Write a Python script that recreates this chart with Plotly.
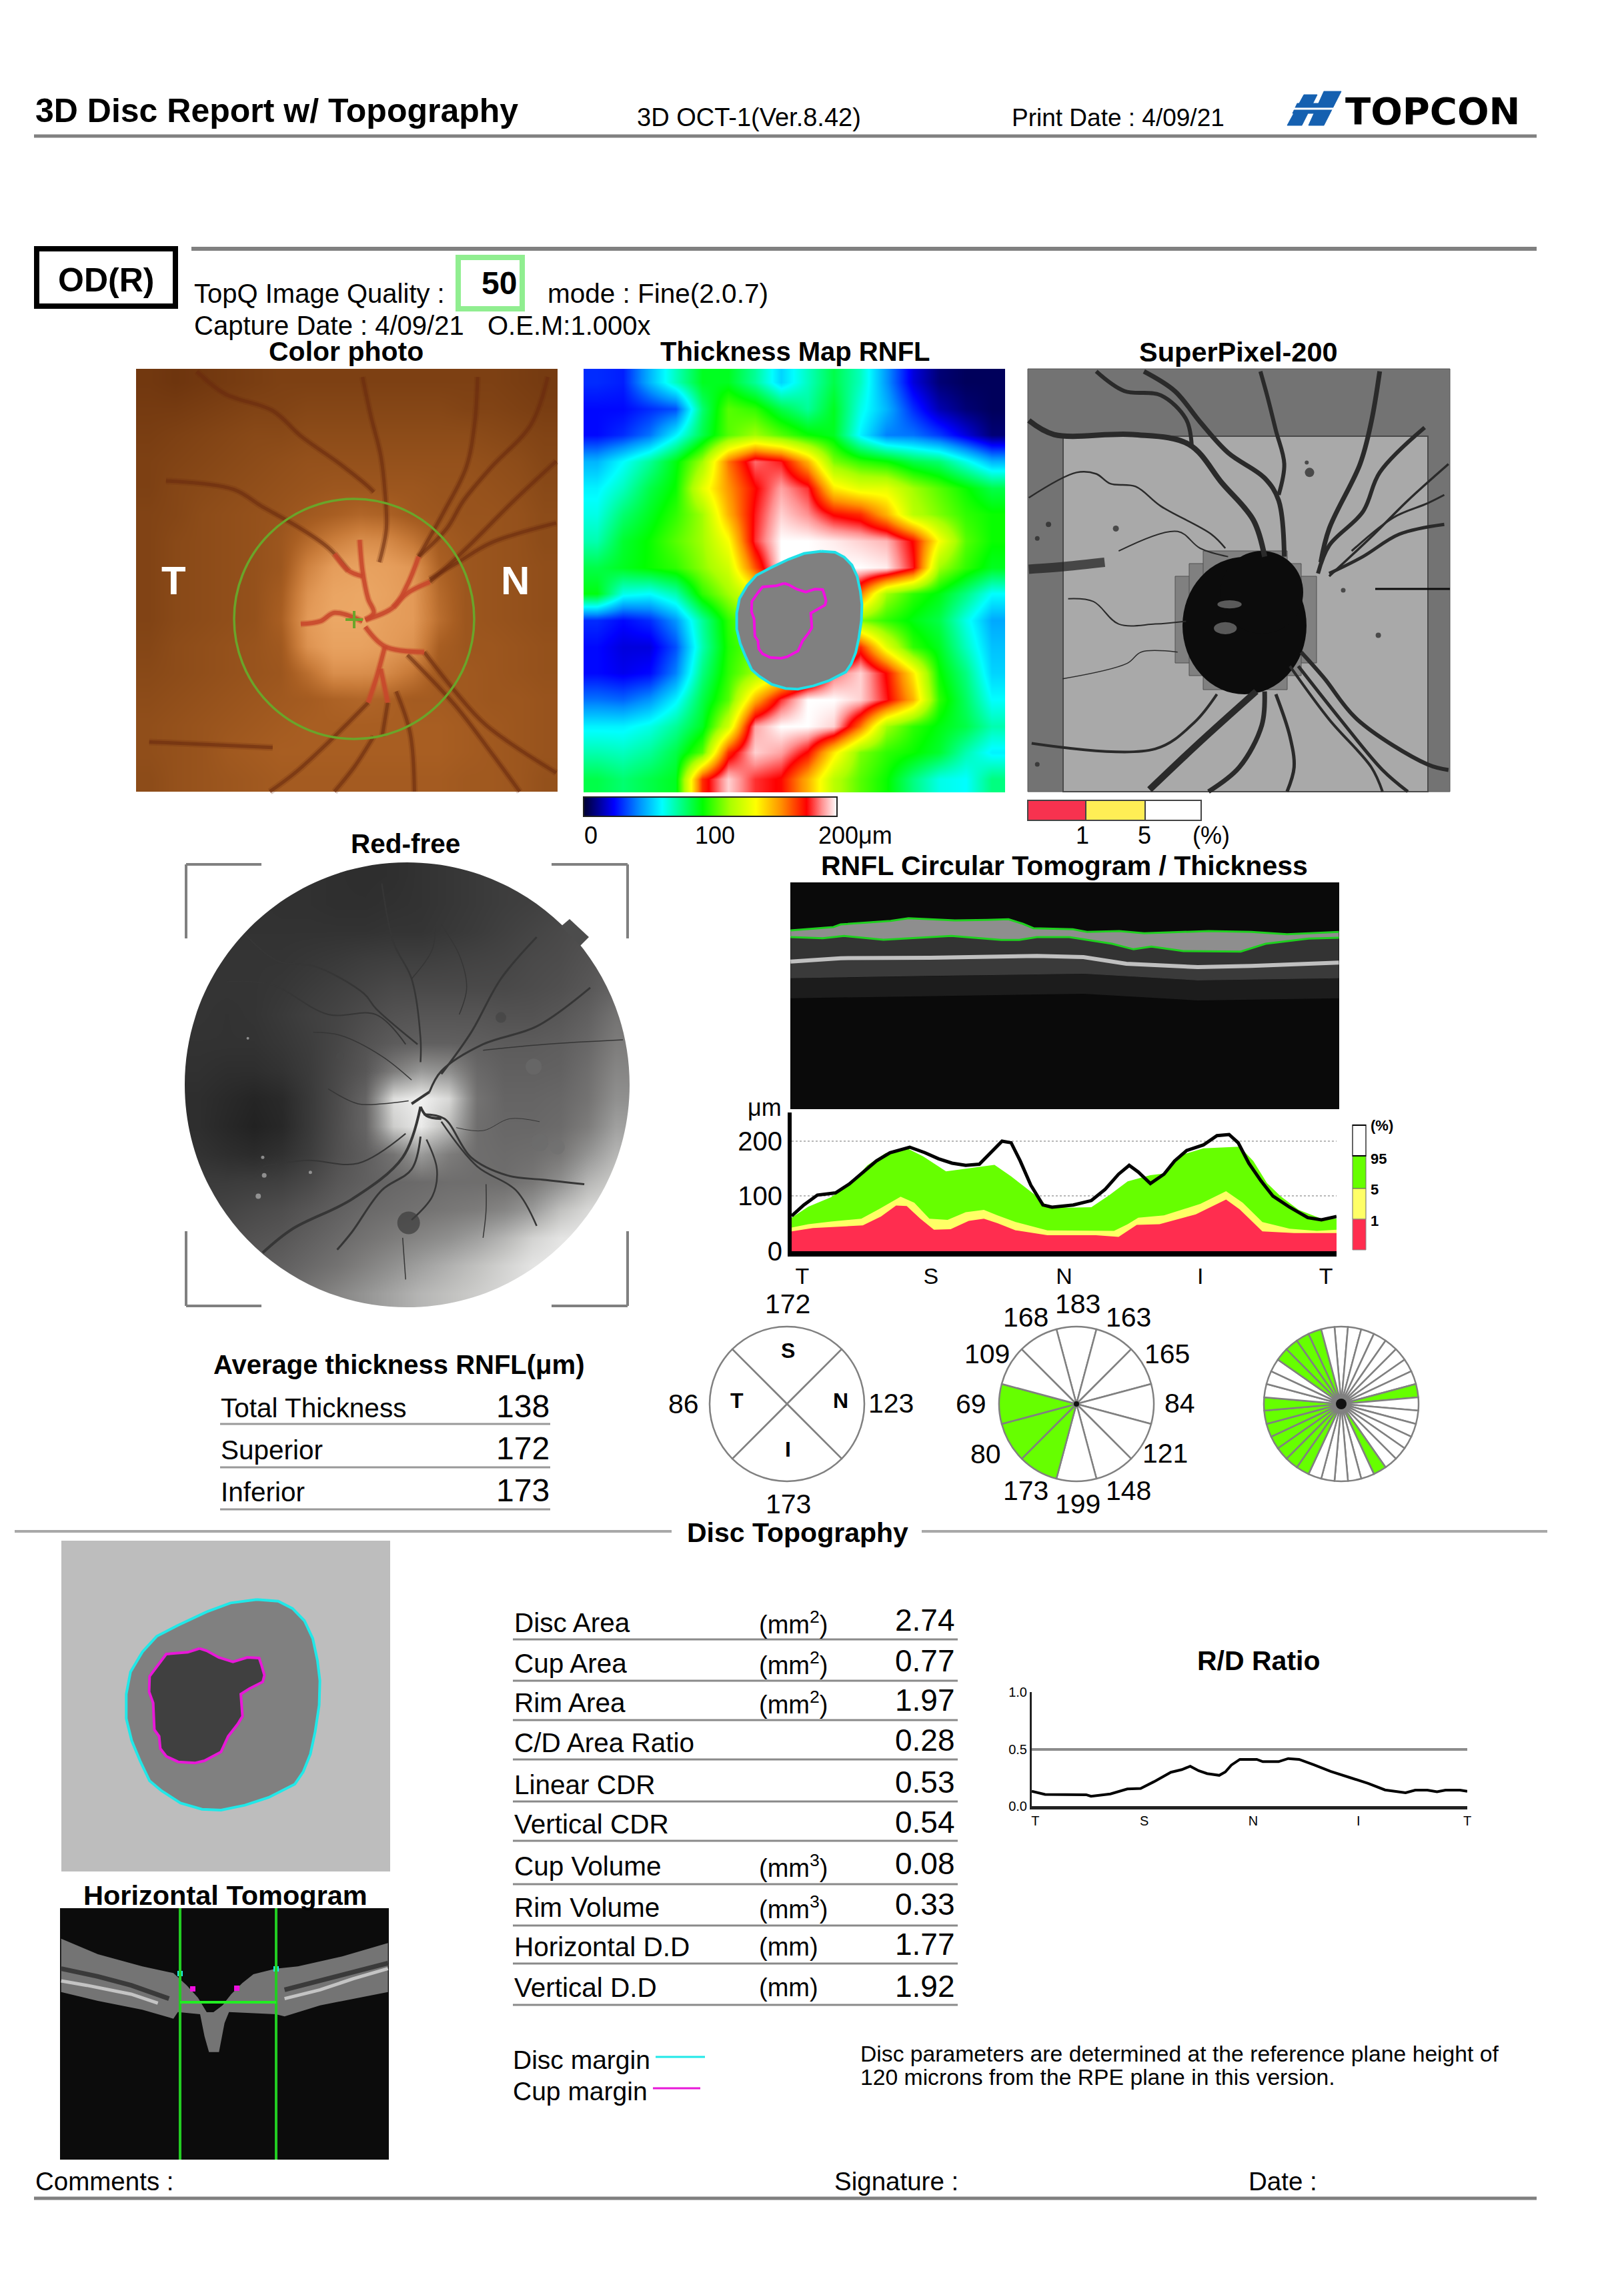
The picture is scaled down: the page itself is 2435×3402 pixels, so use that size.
import plotly.graph_objects as go

W, H = 2435, 3402
FONT = "Liberation Sans"

# ---------- RNFL thickness profile (degrees around the circle, microns) ----------
rnfl_deg = [0,8,17,29,38,47,56,65,78,88,97,106,115,124,131,139,145,151,158,166,172,186,198,207,216,223,229,237,246,253,261,272,281,289,295,302,310,318,329,341,350,360]
rnfl_um = [64,84,102,106,122,144,164,179,189,179,168,160,156,158,177,200,197,164,120,84,80,84,92,112,140,156,144,123,140,164,183,193,210,212,197,160,128,100,80,61,57,63]
p95_deg = [0,11,26,38,50,62,77,87,102,115,134,145,160,169,183,198,210,222,237,246,258,272,296,305,314,323,335,350,360]
p95_um = [61,81,98,120,156,178,186,172,145,150,157,136,104,82,79,80,102,127,138,141,175,187,190,164,124,100,75,59,59]
p5_deg = [0,11,26,46,58,72,81,91,103,115,127,136,148,169,213,222,229,246,270,287,298,311,329,347,360]
p5_um = [43,49,54,59,77,99,88,59,57,71,75,65,53,38,37,49,61,65,86,109,88,53,41,37,39]
p1_deg = [0,14,47,59,69,76,85,94,105,117,127,136,148,169,201,216,228,243,267,287,296,311,332,360]
p1_um = [36,42,47,63,83,82,59,39,40,55,59,51,38,29,29,26,48,49,67,94,76,36,33,33]
rnfl_ticks = [7,92,180,270,353]
quadrant_ticks = ["T","S","N","I","T"]

# ---------- R/D ratio ----------
rd_deg = [0,11,45,49,65,79,90,101,115,124,131,138,145,155,160,165,172,186,191,204,212,221,233,247,264,278,292,309,317,327,335,342,354,360]
rd_val = [.13,.103,.10,.087,.107,.15,.155,.214,.297,.32,.35,.31,.285,.27,.30,.36,.41,.41,.39,.39,.417,.41,.363,.305,.247,.20,.142,.117,.14,.14,.126,.14,.14,.13]

# ---------- Sector charts ----------
quad_names = ["S","N","I","T"]
quad_values = ["172","123","173","86"]
clock_values = ["183","163","165","84","121","148","199","173","80","69","109","168"]
clock_flag = [0,0,0,0,0,0,0,1,1,1,0,0]
sector36_green = [8,15,21,22,23,24,25,26,27,31,32,33,34]

# ---------- Tables ----------
avg_names = ["Total Thickness","Superior","Inferior"]
avg_values = ["138","172","173"]
disc_names = ["Disc Area","Cup Area","Rim Area","C/D Area Ratio","Linear CDR","Vertical CDR","Cup Volume","Rim Volume","Horizontal D.D","Vertical D.D"]
disc_units = ["(mm<sup>2</sup>)","(mm<sup>2</sup>)","(mm<sup>2</sup>)","","","","(mm<sup>3</sup>)","(mm<sup>3</sup>)","(mm)","(mm)"]
disc_values = ["2.74","0.77","1.97","0.28","0.53","0.54","0.08","0.33","1.77","1.92"]

# ---------- Estimated image grids ----------
thick_grid = [
 [30,28,50,70,90,90,75,55,70,85,70,45,20,8,5,5],
 [25,25,30,35,80,105,100,85,75,90,65,50,30,15,8,5],
 [25,30,40,60,85,105,115,105,95,90,60,42,40,32,20,8],
 [50,62,75,92,115,160,185,178,150,110,100,95,85,80,65,50],
 [60,70,85,95,130,155,175,190,180,140,130,130,115,105,95,85],
 [65,80,90,100,115,150,178,195,188,175,170,150,120,110,100,95],
 [72,88,95,105,115,135,180,200,200,198,195,192,175,135,105,95],
 [85,90,95,100,112,125,165,200,200,200,200,198,178,115,100,90],
 [92,65,62,72,100,115,130,150,170,170,160,115,100,92,78,62],
 [30,25,30,45,75,100,115,120,125,125,110,100,92,85,65,48],
 [25,20,20,35,72,98,108,115,120,130,170,130,100,90,70,52],
 [25,22,25,42,78,100,115,130,150,185,195,175,140,95,78,55],
 [40,38,45,60,85,105,150,180,200,200,195,178,150,100,82,62],
 [60,60,65,75,90,125,190,200,200,195,160,115,100,92,85,72],
 [72,70,75,85,105,170,195,190,175,140,110,100,95,88,72,60],
 [85,80,85,90,170,195,180,175,150,120,105,95,78,65,62,78]]
thick_scale = [[0,"#000030"],[.12,"#0000ff"],[.22,"#0090ff"],[.31,"#00ffff"],[.47,"#00ff00"],[.58,"#aaff00"],[.68,"#ffff00"],[.78,"#ff9000"],[.88,"#ff0000"],[.94,"#ff9090"],[1,"#ffffff"]]

photo_grid = [
 [32,30,32,34,36,38,38,38,38,38,38,38,38,38,36,34],
 [34,34,36,38,40,40,42,42,42,42,42,42,40,40,38,36],
 [36,38,40,42,44,44,46,46,46,46,46,46,46,44,42,40],
 [38,40,42,44,46,48,50,50,50,50,50,50,50,48,46,42],
 [38,42,44,46,48,50,52,54,54,54,54,52,52,50,48,44],
 [40,42,46,48,50,52,56,60,64,62,56,54,52,52,50,46],
 [40,44,46,48,50,54,66,76,84,82,72,58,54,52,50,46],
 [40,44,46,48,50,54,78,92,96,94,88,62,54,52,50,48],
 [40,44,46,48,50,58,86,98,100,96,90,66,54,52,50,48],
 [40,44,46,48,50,60,90,100,100,94,90,68,54,52,50,48],
 [42,46,48,50,52,56,86,96,96,92,86,60,54,54,52,50],
 [44,46,48,50,52,54,68,84,84,82,72,56,56,54,52,50],
 [46,48,50,52,54,56,58,62,64,62,58,58,56,54,54,52],
 [48,50,52,54,56,58,60,60,60,60,60,60,58,56,54,52],
 [48,50,52,56,58,60,60,60,60,60,60,60,58,56,54,52],
 [46,50,52,54,56,58,58,58,58,58,58,58,56,56,54,50]]
photo_scale = [[0,"#6e350e"],[.21,"#8a4a18"],[.43,"#a85e22"],[.64,"#c97c3a"],[.86,"#e39a58"],[1,"#eba765"]]

redfree_grid = [
 [60,60,60,60,58,56,55,56,60,64,68,72,72,75,80,85],
 [60,60,60,58,58,56,56,58,60,64,68,72,75,80,85,90],
 [60,60,60,60,60,60,60,62,62,66,70,75,80,85,90,95],
 [62,62,62,62,65,68,72,74,74,76,78,80,85,88,95,105],
 [62,62,62,65,70,75,80,85,85,85,85,85,88,92,100,115],
 [62,60,62,68,75,80,88,95,98,98,98,95,95,100,110,130],
 [60,60,60,65,72,82,95,105,110,110,108,105,105,108,118,140],
 [58,55,55,60,70,85,100,140,170,160,120,110,110,112,125,150],
 [55,50,45,50,68,88,115,230,245,225,130,115,115,118,130,160],
 [55,48,42,48,68,90,115,215,240,200,125,118,118,122,140,175],
 [60,55,52,58,72,92,108,130,170,140,125,122,125,135,165,195],
 [70,70,72,75,85,100,110,118,122,125,125,125,135,160,195,215],
 [75,80,85,90,100,110,120,125,130,135,140,150,170,205,225,235],
 [85,90,95,100,110,120,130,140,150,160,175,195,220,235,240,240],
 [95,100,105,110,120,130,145,160,175,190,205,220,235,240,240,240],
 [100,105,110,120,135,150,165,180,195,205,215,225,235,240,240,240]]

# ---------- Outlines (zoomed-crop coordinates) ----------
disc_outline = [(910,355),(1000,362),(1060,395),(1110,450),(1145,530),(1165,630),(1175,720),(1172,830),(1155,950),(1135,1050),(1105,1130),(1070,1185),(960,1245),(860,1280),(760,1302),(680,1298),(590,1270),(510,1215),(460,1170),(420,1080),(385,990),(362,890),(362,780),(380,680),(430,590),(490,520),(580,470),(700,410),(800,370),(910,355)]
cup_outline = [(670,575),(700,585),(750,615),(810,635),(870,615),(920,618),(930,650),(942,695),(935,725),(880,755),(843,780),(850,880),(830,915),(790,970),(760,1040),(690,1080),(650,1090),(580,1085),(530,1060),(505,1025),(500,970),(480,940),(475,820),(458,770),(460,700),(500,640),(530,600),(620,592),(670,575)]

photo_dark_vessels = [
 [(840,60),(870,200),(905,340),(920,470),(925,600),(900,720)],
 [(250,40),(350,120),(520,180),(620,270),(760,370),(860,450),(880,470)],
 [(1250,60),(1240,220),(1210,380),(1130,540),(1040,700)],
 [(1500,60),(1440,230),(1300,380),(1200,500),(1140,600),(1040,700)],
 [(1530,360),(1380,500),(1200,680),(1080,790)],
 [(1530,580),(1300,650),(1180,720),(1080,780)],
 [(1060,1040),(1170,1180),(1280,1300),(1530,1470)],
 [(1000,1050),(1170,1230),(1300,1400),(1400,1537)],
 [(860,1220),(720,1360),(600,1470),(510,1537)],
 [(930,1220),(910,1340)],
 [(960,1180),(1010,1330),(1025,1537)],
 [(880,1340),(810,1450),(740,1537)],
 [(140,430),(380,460),(480,520),(620,600),(720,670),(790,750)],
 [(80,1360),(300,1370),(520,1380)]]
photo_red_vessels = [
 [(830,640),(840,750),(860,850),(880,900),(850,925)],
 [(1040,700),(1000,800),(950,880),(850,925)],
 [(850,950),(920,1020),(1060,1040)],
 [(920,1020),(890,1130),(860,1220)],
 [(905,1100),(930,1220)],
 [(840,930),(740,900),(690,930),(620,940)],
 [(740,690),(790,750),(840,770)],
 [(1080,790),(1000,830),(950,880)]]

sp_vessels = [
 ([(30,215),(120,265),(400,265),(600,300),(720,440),(830,570),(870,700)],8),
 ([(270,40),(370,110),(500,125),(590,210),(610,300)],6),
 ([(440,40),(550,110),(640,220),(740,330),(870,420),(920,500),(940,700)],7),
 ([(855,40),(880,130),(910,250),(940,370),(920,480)],6),
 ([(1280,40),(1250,220),(1210,370),(1100,600),(1070,720)],7),
 ([(1440,240),(1280,400),(1220,540),(1100,660),(1060,760)],6),
 ([(1525,370),(1380,500),(1260,620),(1100,770)],3.5),
 ([(1510,480),(1450,510),(1330,560),(1180,680)],3),
 ([(1510,585),(1350,620),(1220,700),(1100,760)],5),
 ([(1000,1040),(1080,1130),(1200,1280),(1450,1440),(1525,1460)],6),
 ([(990,1090),(1140,1280),(1290,1460),(1380,1537)],5),
 ([(960,1090),(1100,1280),(1250,1450),(1290,1537)],4),
 ([(840,1180),(640,1360),(460,1530)],10),
 ([(870,1180),(860,1300),(780,1450),(670,1537)],7),
 ([(910,1190),(960,1340),(975,1450),(950,1537)],5),
 ([(700,1190),(620,1290),(480,1385),(40,1365)],4),
 ([(30,490),(200,400),(270,405),(320,440),(410,450),(500,520),(680,620),(730,670)],2.5),
 ([(350,680),(560,610),(640,670),(740,700)],2),
 ([(170,850),(260,860),(350,940),(480,940),(590,930)],2),
 ([(150,1135),(380,1080),(430,1040),(560,1040)],1.5)]
sp_smear = [(30,745),(160,735),(300,720)]
sp_spots = [(1030,400,14),(340,600,9),(1275,980,8),(1150,820,7),(100,585,8),(60,635,7),(60,1440,7),(1020,365,6)]
sp_patches = [(745,870,36,12),(730,955,34,18)]

rf_vessels = [
 ([(830,850),(770,1020),(600,1160),(400,1260),(300,1340)],4),
 ([(830,950),(800,1060),(700,1130),(600,1270),(550,1330)],3),
 ([(850,960),(885,1060),(870,1150),(800,1230)],2.5),
 ([(840,875),(910,890),(1000,1020),(1120,1080),(1240,1095),(1380,1110)],3),
 ([(900,900),(1020,1050),(1150,1130),(1220,1250)],2.5),
 ([(1050,1110),(1050,1200),(1040,1290)],1.5),
 ([(860,800),(900,730),(1040,640),(1220,580),(1400,450)],3),
 ([(900,740),(1000,600),(1100,420),(1220,280)],3),
 ([(1040,660),(1250,640),(1510,625)],1.5),
 ([(830,700),(830,620),(800,420),(740,300),(700,100)],2.5),
 ([(820,640),(680,520),(640,470),(480,380),(350,360),(240,270)],2.5),
 ([(780,640),(680,540),(520,540),(330,440),(180,430)],2),
 ([(960,540),(985,450),(960,340),(900,240)],1.5),
 ([(800,420),(870,320),(880,200)],1.5),
 ([(800,760),(700,680),(560,610),(470,600)],1.5),
 ([(790,830),(700,840),(620,840),(520,790)],1.5),
 ([(780,940),(620,1040),(450,1030),(300,1050)],2),
 ([(950,920),(1040,930),(1130,890),(1230,900)],1),
 ([(770,1290),(780,1430)],1.5),
 ([(800,840),(860,800)],4),
 ([(830,850),(850,880),(900,890)],4)]
rf_spots = [(790,1240,34,"#3c3c3c"),(1230,970,26,"#6c6c6c"),(1290,985,22,"#707070"),(1210,715,24,"#6a6a6a"),(1100,550,16,"#444444"),(560,680,12,"#4a4a4a"),
            (300,1020,5,"#b4b4b4"),(305,1080,7,"#b4b4b4"),(285,1150,8,"#b4b4b4"),(250,620,4,"#b4b4b4"),(460,1070,5,"#b4b4b4")]

tomo_top = [(10,255),(130,240),(150,228),(290,212),(340,200),(470,210),(560,208),(620,205),(660,225),(690,245),(800,250),(840,262),(930,258),(1000,268),(1180,258),(1300,262),(1400,272),(1545,262)]
tomo_low = [(10,285),(100,290),(160,280),(270,297),(460,280),(600,298),(650,298),(700,285),(790,285),(910,315),(970,340),(1020,328),(1110,348),(1270,350),(1340,315),(1460,292),(1545,288)]
tomo_rpe = [(10,395),(150,380),(400,378),(700,370),(830,375),(950,405),(1150,420),(1300,415),(1545,400)]
tomo_deep = [(10,470),(400,460),(830,450),(1150,480),(1545,470)]
tomo_deeper = [(10,560),(400,550),(830,540),(1150,570),(1545,560)]

ht_retina = [(35,260),(200,330),(400,385),(540,415),(600,470),(650,525),(690,590),(720,590),(760,560),(800,510),(850,460),(900,420),(1000,395),(1100,385),(1300,340),(1505,280),(1505,500),(1200,560),(1040,610),(1000,600),(790,590),(770,640),(745,770),(700,770),(680,700),(660,600),(560,590),(540,620),(400,580),(200,540),(35,500)]
ht_rpe_left = [(35,450),(150,470),(350,510),(470,550)]
ht_rpe_right = [(1040,530),(1200,490),(1350,440),(1505,395)]
ht_dark_left = [(35,395),(200,430),(350,470),(520,530)]
ht_dark_right = [(1040,490),(1200,450),(1350,410),(1505,370)]
ht_cavity = [(660,540),(780,540),(760,560),(720,590),(690,590)]

logo_left = [(1930,188),(1955,142),(1975,142),(1952,188)]
logo_right = [(1962,188),(1985,137),(2011,137),(1985,188)]
logo_bar = [(1945,155),(2000,155),(1992,170),(1938,170)]

fig = go.Figure()
shapes, notes = [], []


def txt(x, y, s, size=38, bold=False, anchor="left", color="#000000", font=FONT):
    notes.append(dict(x=x, y=y, xref="x", yref="y", text=f"<b>{s}</b>" if bold else s, showarrow=False,
                      xanchor=anchor, yanchor="middle", borderpad=0,
                      font=dict(family=font, size=size, color=color)))


def hline(x0, x1, y, color="#808080", w=4):
    shapes.append(dict(type="line", xref="x", yref="y", x0=x0, x1=x1, y0=y, y1=y, line=dict(color=color, width=w)))


def vline(x, y0, y1, color="#808080", w=4):
    shapes.append(dict(type="line", xref="x", yref="y", x0=x, x1=x, y0=y0, y1=y1, line=dict(color=color, width=w)))


def rect(x0, y0, x1, y1, fill="rgba(0,0,0,0)", line="rgba(0,0,0,0)", w=0, layer="above"):
    shapes.append(dict(type="rect", xref="x", yref="y", x0=x0, x1=x1, y0=y0, y1=y1, fillcolor=fill,
                       line=dict(color=line, width=w), layer=layer))


def disk(cx, cy, rx, ry, fill, layer="above"):
    shapes.append(dict(type="circle", xref="x", yref="y", x0=cx - rx, x1=cx + rx, y0=cy - ry, y1=cy + ry,
                       fillcolor=fill, line=dict(width=0), layer=layer))


def conv(pts, x0, fx, y0, fy):
    return [x0 + p[0] / fx for p in pts], [y0 + p[1] / fy for p in pts]


def path(xs, ys, color, w, fill=None, smooth=False):
    fig.add_trace(go.Scatter(x=xs, y=ys, mode="lines",
                             line=dict(color=color, width=w, shape="spline" if smooth else "linear"),
                             fill="toself" if fill else None, fillcolor=fill, hoverinfo="skip", showlegend=False))


def grid_heat(z, x0, y0, x1, y1, scale, zmin, zmax, **kw):
    n, m = len(z), len(z[0])
    xs = [x0 + (j + .5) * (x1 - x0) / m for j in range(m)]
    ys = [y0 + (i + .5) * (y1 - y0) / n for i in range(n)]
    fig.add_trace(go.Heatmap(z=z, x=xs, y=ys, colorscale=scale, zmin=zmin, zmax=zmax, zsmooth="best",
                             hoverinfo="skip", **kw))


# ---------- Header ----------
txt(52, 166, "3D Disc Report w/ Topography", 50, True)
txt(954, 176, "3D OCT-1(Ver.8.42)", 38)
txt(1516, 176, "Print Date : 4/09/21", 37)
hline(51, 2304, 204, "#808080", 5)
hline(287, 2304, 373, "#808080", 6)
rect(55, 373, 263, 459, "rgba(0,0,0,0)", "#000000", 8)
txt(159, 420, "OD(R)", 50, True, "center")
rect(687, 386, 783, 463, "rgba(0,0,0,0)", "#90ee90", 8)
txt(748, 424, "50", 48, True, "center")
txt(290, 440, "TopQ Image Quality :", 40)
txt(820, 440, "mode : Fine(2.0.7)", 40.5)
txt(290, 488, "Capture Date : 4/09/21", 40)
txt(730, 488, "O.E.M:1.000x", 40)
txt(519, 527, "Color photo", 41, True, "center")
txt(1192, 527, "Thickness Map RNFL", 40, True, "center")
txt(1857, 527, "SuperPixel-200", 41.5, True, "center")
for poly in (logo_left, logo_right, logo_bar):
    path([p[0] for p in poly] + [poly[0][0]], [p[1] for p in poly] + [poly[0][1]], "#1560b0", 1, "#1560b0")
hline(1935, 2010, 163, "#ffffff", 3)
txt(2016, 166, "TOPCON", 56, True, font="DejaVu Sans")

# ---------- Color photo ----------
grid_heat(photo_grid, 204, 553, 836, 1187, photo_scale, 30, 100, showscale=False)
for v in photo_dark_vessels:
    x, y = conv(v, 190, 2.376, 540, 2.376)
    path(x, y, "rgba(105,42,14,0.22)", 10, smooth=True)
    path(x, y, "rgba(105,42,14,0.55)", 5, smooth=True)
for v in photo_red_vessels:
    x, y = conv(v, 190, 2.376, 540, 2.376)
    path(x, y, "rgba(200,71,44,0.35)", 10, smooth=True)
    path(x, y, "rgba(200,71,44,0.85)", 6, smooth=True)
shapes.append(dict(type="circle", xref="x", yref="y", x0=351, x1=711, y0=748, y1=1108, line=dict(color="#6aa52a", width=3.5)))
hline(518, 544, 929, "#6aa52a", 4)
vline(531, 916, 942, "#6aa52a", 4)
txt(260, 870, "T", 60, True, "center", "#ffffff")
txt(772, 870, "N", 60, True, "center", "#ffffff")

# ---------- Thickness map ----------
grid_heat(thick_grid, 875, 553, 1507, 1188, thick_scale, 0, 200, showscale=True,
          colorbar=dict(orientation="h", x=875 / W, xanchor="left", y=1 - 1195 / H, yanchor="top", len=380,
                        lenmode="pixels", thickness=29, xpad=0, ypad=0, outlinecolor="#222222", outlinewidth=2,
                        ticks="", showticklabels=False))
tf = lambda pts: ([800 + (597 + (p[0] - 362) / 813 * 368) / 1.96 for p in pts], [500 + (640 + (p[1] - 355) / 947 * 405) / 1.96 for p in pts])
x, y = tf(disc_outline); path(x, y, "#20e0e8", 4, "#808080")
x, y = tf(cup_outline); path(x, y, "#f010e0", 4)
txt(875, 1252, "0", 36)
txt(1041, 1252, "100", 36)
txt(1226, 1252, "200μm", 36)

# ---------- SuperPixel ----------
rect(1541, 553, 2174, 1187, "#737373", "#555555", 1, "below")
rect(1594, 654, 2141, 1187, "#a9a9a9", "#4a4a4a", 2, "below")
rect(1762, 864, 1974, 994, "#808080", "#505050", 1, "below")
rect(1783, 845, 1951, 1013, "#808080", "#505050", 1, "below")
rect(1804, 826, 1930, 1034, "#808080", "#505050", 1, "below")
disk(1866, 938, 93, 103, "#0c0c0c", "below")
disk(1892, 888, 62, 62, "#0c0c0c", "below")
for cx, cy, rx, ry in sp_patches:
    disk(1530 + cx / 2.376, 540 + cy / 2.376, rx / 2.376 * 1.2, ry / 2.376 * 1.2, "#5a5a5a", "below")
for v, w in sp_vessels:
    x, y = conv(v, 1530, 2.376, 540, 2.376)
    path(x, y, "#2a2a2a", w, smooth=True)
x, y = conv(sp_smear, 1530, 2.376, 540, 2.376)
path(x, y, "rgba(30,30,30,0.7)", 14, smooth=True)
sx, sy = conv(sp_spots, 1530, 2.376, 540, 2.376)
fig.add_trace(go.Scatter(x=sx, y=sy, mode="markers", hoverinfo="skip", showlegend=False,
                         marker=dict(size=[s[2] for s in sp_spots], color="#222222", line=dict(width=0))))
hline(2062, 2174, 883, "#0c0c0c", 3)
rect(1541, 1200, 1628, 1230, "#f7324f", "#444444", 2)
rect(1628, 1200, 1717, 1230, "#ffee55", "#444444", 2)
rect(1717, 1200, 1801, 1230, "#ffffff", "#444444", 2)
txt(1623, 1252, "1", 36, anchor="center")
txt(1716, 1252, "5", 36, anchor="center")
txt(1816, 1252, "(%)", 36, anchor="center")

# ---------- Red-free ----------
txt(608, 1265, "Red-free", 40.5, True, "center")
grid_heat(redfree_grid, 277, 1293, 944, 1960, "gray", 0, 255, showscale=False)
for v, w in rf_vessels:
    x, y = conv(v, 260, 2.24, 1280, 2.24)
    path(x, y, "#363636", w, smooth=True)
sx, sy = conv(rf_spots, 260, 2.24, 1280, 2.24)
fig.add_trace(go.Scatter(x=sx, y=sy, mode="markers", hoverinfo="skip", showlegend=False,
                         marker=dict(size=[s[2] for s in rf_spots], color=[s[3] for s in rf_spots], line=dict(width=0))))
# white corners around the round fundus field
CX, CY, R, K = 610.5, 1626.5, 333.5, 0.5523
for sxn, syn in ((-1, -1), (1, -1), (1, 1), (-1, 1)):
    xe, ye = CX + sxn * (R + 3), CY + syn * (R + 3)
    ex, ey = CX + sxn * R, CY + syn * R
    shapes.append(dict(type="path", xref="x", yref="y", fillcolor="#ffffff", line=dict(width=0),
                       path=(f"M {xe} {ye} L {CX} {ye} L {CX} {ey} "
                             f"C {CX + sxn * K * R} {ey} {ex} {CY + syn * K * R} {ex} {CY} "
                             f"L {xe} {CY} Z")))
shapes.append(dict(type="path", xref="x", yref="y", path="M 854 1378 L 883 1405 L 870 1418 L 841 1389 Z", fillcolor="#4c4c4c", line=dict(width=0)))
for xa, xb, yc in ((279, 392, 1296), (827, 941, 1296), (279, 392, 1958), (827, 941, 1958)):
    hline(xa, xb, yc)
for xc, ya, yb in ((279, 1296, 1407), (941, 1296, 1407), (279, 1846, 1958), (941, 1846, 1958)):
    vline(xc, ya, yb)

# ---------- RNFL circular tomogram ----------
txt(1596, 1298, "RNFL Circular Tomogram / Thickness", 41, True, "center")
rect(1185, 1323, 2008, 1663, "#0a0a0a", layer="below")
tx, ty = conv(tomo_top, 1180, 1.867, 1310, 3)
lx, ly = conv(tomo_low, 1180, 1.867, 1310, 3)
rx, ry = conv(tomo_rpe, 1180, 1.867, 1310, 3)
dx, dy = conv(tomo_deep, 1180, 1.867, 1310, 3)
ex, ey = conv(tomo_deeper, 1180, 1.867, 1310, 3)
path(dx + ex[::-1], dy + ey[::-1], "rgba(0,0,0,0)", 0, "#1c1c1c")
path(rx + dx[::-1], ry + dy[::-1], "rgba(0,0,0,0)", 0, "#3a3a3a")
path(lx + rx[::-1], ly + ry[::-1], "rgba(0,0,0,0)", 0, "#333333")
path(tx + lx[::-1], ty + ly[::-1], "rgba(0,0,0,0)", 0, "#8e8e8e")
path(rx, ry, "#c0c0c0", 6)
path(tx, ty, "#1fd01f", 3)
path(lx, ly, "#1fd01f", 3)

# ---------- RNFL thickness chart ----------
for xs, ys, col in ((p95_deg, p95_um, "#66ff00"), (p5_deg, p5_um, "#ffff66"), (p1_deg, p1_um, "#ff2d4f")):
    fig.add_trace(go.Scatter(x=xs, y=ys, xaxis="x2", yaxis="y2", mode="lines", line=dict(width=0, color=col),
                             fill="tozeroy", fillcolor=col, hoverinfo="skip", showlegend=False))
fig.add_trace(go.Scatter(x=rnfl_deg, y=rnfl_um, xaxis="x2", yaxis="y2", mode="lines",
                         line=dict(color="#000000", width=5), hoverinfo="skip", showlegend=False))
txt(1146, 1660, "μm", 36, anchor="center")
rect(2028, 1687, 2048, 1733, "#ffffff", "#666666", 2)
rect(2028, 1733, 2048, 1782, "#66ff00", "#666666", 1)
rect(2028, 1782, 2048, 1828, "#ffff66", "#666666", 1)
rect(2028, 1828, 2048, 1874, "#ff2d4f", "#888888", 1)
hline(2028, 2048, 1687, "#000000", 2)
hline(2028, 2048, 1733, "#000000", 2)
txt(2054, 1687, "(%)", 22, True)
txt(2054, 1737, "95", 22, True)
txt(2054, 1783, "5", 22, True)
txt(2054, 1830, "1", 22, True)

# ---------- Sector charts ----------
def pie(cx, cy, r, values, colors, rot, lw):
    fig.add_trace(go.Pie(values=values, sort=False, direction="clockwise", rotation=rot, textinfo="none",
                         hoverinfo="skip", showlegend=False,
                         domain=dict(x=[(cx - r) / W, (cx + r) / W], y=[1 - (cy + r) / H, 1 - (cy - r) / H]),
                         marker=dict(colors=colors, line=dict(color="#808080", width=lw))))


pie(1180, 2105, 116, [1] * 4, ["#ffffff"] * 4, -45, 2.5)
pie(1614, 2105, 116, [1] * 12, ["#66ff00" if f else "#ffffff" for f in clock_flag], -15, 2.5)
pie(2011, 2105, 116, [1] * 36, ["#66ff00" if k in sector36_green else "#ffffff" for k in range(36)], -5, 2.5)
disk(1614, 2105, 4, 4, "#111111")
disk(2011, 2105, 8, 8, "#111111")
quad_pos = [(1181, 1955), (1336, 2104), (1182, 2255), (1025, 2105)]
quad_letter_pos = [(1181, 2025), (1260, 2100), (1181, 2173), (1105, 2100)]
for (px, py), v in zip(quad_pos, quad_values):
    txt(px, py, v, 41, anchor="center")
for (px, py), n in zip(quad_letter_pos, quad_names):
    txt(px, py, n, 32, True, "center")
clock_pos = [(1616,1955),(1692,1975),(1750,2030),(1769,2104),(1747,2179),(1692,2235),(1616,2255),(1538,2235),(1478,2180),(1456,2105),(1480,2030),(1538,1975)]
for (px, py), v in zip(clock_pos, clock_values):
    txt(px, py, v, 41, anchor="center")

# ---------- Average thickness table ----------
txt(319, 2046, "Average thickness RNFL(μm)", 40, True)
for n, v, yc, yr in zip(avg_names, avg_values, (2111, 2174, 2237), (2135, 2200, 2263)):
    txt(330, yc, n, 40.5)
    txt(825, yc - 3, v, 48, anchor="right")
    hline(330, 825, yr, "#999999", 3)

# ---------- Disc Topography ----------
hline(22, 1007, 2296, "#a8a8a8", 4)
hline(1382, 2320, 2296, "#a8a8a8", 4)
txt(1196, 2298, "Disc Topography", 41, True, "center")
rect(92, 2310, 585, 2806, "#bdbdbd", layer="below")
x, y = conv(disc_outline, 60, 2.8, 2280, 3); path(x, y, "#20e8e8", 4, "#808080")
x, y = conv(cup_outline, 60, 2.8, 2280, 3); path(x, y, "#e818d8", 4, "#404040")

txt(338, 2841, "Horizontal Tomogram", 41.5, True, "center")
rect(90, 2861, 583, 3238, "#0c0c0c", layer="below")
x, y = conv(ht_retina, 80, 3, 2820, 3); path(x, y, "rgba(0,0,0,0)", 0, "#747474")
x, y = conv(ht_cavity, 80, 3, 2820, 3); path(x, y, "rgba(0,0,0,0)", 0, "#0c0c0c")
for poly, col, w in ((ht_dark_left, "#3a3a3a", 7), (ht_dark_right, "#3a3a3a", 7), (ht_rpe_left, "#c4c4c4", 5), (ht_rpe_right, "#c4c4c4", 5)):
    x, y = conv(poly, 80, 3, 2820, 3); path(x, y, col, w)
vline(270, 2861, 3238, "#22cc22", 4)
vline(414, 2861, 3238, "#22cc22", 4)
hline(270, 414, 3002, "#22ee22", 4)
fig.add_trace(go.Scatter(x=[270, 414, 289, 355], y=[2959, 2952, 2982, 2981], mode="markers", hoverinfo="skip", showlegend=False,
                         marker=dict(size=8, symbol="square", color=["#20e8e8", "#20e8e8", "#f010e0", "#f010e0"])))

for n, u, v, yl, yv, yr in zip(disc_names, disc_units, disc_values,
                               (2433, 2494, 2553, 2613, 2676, 2735, 2798, 2860, 2919, 2980),
                               (2429, 2490, 2549, 2609, 2672, 2732, 2794, 2855, 2915, 2978),
                               (2458, 2520, 2579, 2638, 2701, 2760, 2825, 2887, 2944, 3006)):
    txt(770, yl, n, 40.5)
    if u:
        txt(1137, yl, u, 38)
    txt(1433, yv, v, 46, anchor="right")
    hline(769, 1436, yr, "#8a8a8a", 3)

# ---------- R/D ratio ----------
txt(1887, 2490, "R/D Ratio", 41, True, "center")
fig.add_trace(go.Scatter(x=rd_deg, y=rd_val, xaxis="x3", yaxis="y3", mode="lines", line=dict(color="#000000", width=4),
                         hoverinfo="skip", showlegend=False))

# ---------- Footer ----------
txt(768, 3088, "Disc margin", 39)
hline(983, 1057, 3084, "#20e8e8", 3)
txt(768, 3135, "Cup margin", 39)
hline(979, 1050, 3131, "#e818d8", 3)
txt(1289, 3079, "Disc parameters are determined at the reference plane height of", 33.7)
txt(1289, 3114, "120 microns from the RPE plane in this version.", 33.7)
txt(52, 3270, "Comments :", 38.5)
txt(1250, 3270, "Signature :", 38.5)
txt(1871, 3270, "Date :", 38.5)
hline(51, 2304, 3296, "#808080", 5)

fig.update_layout(
    width=W, height=H, autosize=False, margin=dict(l=0, r=0, t=0, b=0, autoexpand=False), showlegend=False,
    paper_bgcolor="#ffffff", plot_bgcolor="rgba(0,0,0,0)", font=dict(family=FONT, color="#000000"),
    xaxis=dict(range=[0, W], domain=[0, 1], visible=False, fixedrange=True),
    yaxis=dict(range=[H, 0], domain=[0, 1], visible=False, fixedrange=True),
    xaxis2=dict(anchor="y2", domain=[1187 / W, 2004 / W], range=[0, 360], showgrid=False, zeroline=False,
                tickvals=rnfl_ticks, ticktext=quadrant_ticks, ticks="", tickfont=dict(size=34, family=FONT),
                showline=True, linecolor="#000000", linewidth=8),
    yaxis2=dict(anchor="x2", domain=[1 - 1876 / H, 1 - 1668 / H], range=[0, 252], tickvals=[0, 100, 200], ticks="",
                tickfont=dict(size=40, family=FONT), showgrid=True, gridcolor="#b8b8b8", griddash="dot", gridwidth=2,
                zeroline=False, showline=True, linecolor="#000000", linewidth=6),
    xaxis3=dict(anchor="y3", domain=[1547 / W, 2200 / W], range=[0, 360], showgrid=False, zeroline=False,
                tickvals=[3, 93, 183, 270, 360], ticktext=quadrant_ticks, ticks="", tickfont=dict(size=20, family=FONT),
                showline=True, linecolor="#222222", linewidth=5),
    yaxis3=dict(anchor="x3", domain=[1 - 2708 / H, 1 - 2537 / H], range=[0, 1], tickvals=[0, .5, 1], tickformat=".1f", ticks="",
                tickfont=dict(size=20, family=FONT), showgrid=True, gridcolor="#8c8c8c", gridwidth=4, zeroline=False,
                showline=True, linecolor="#222222", linewidth=3),
    shapes=shapes, annotations=notes,
)
fig.write_html("out.html", config=dict(displayModeBar=False),
               post_script="document.body.style.margin='0';document.documentElement.style.overflow='hidden';")
